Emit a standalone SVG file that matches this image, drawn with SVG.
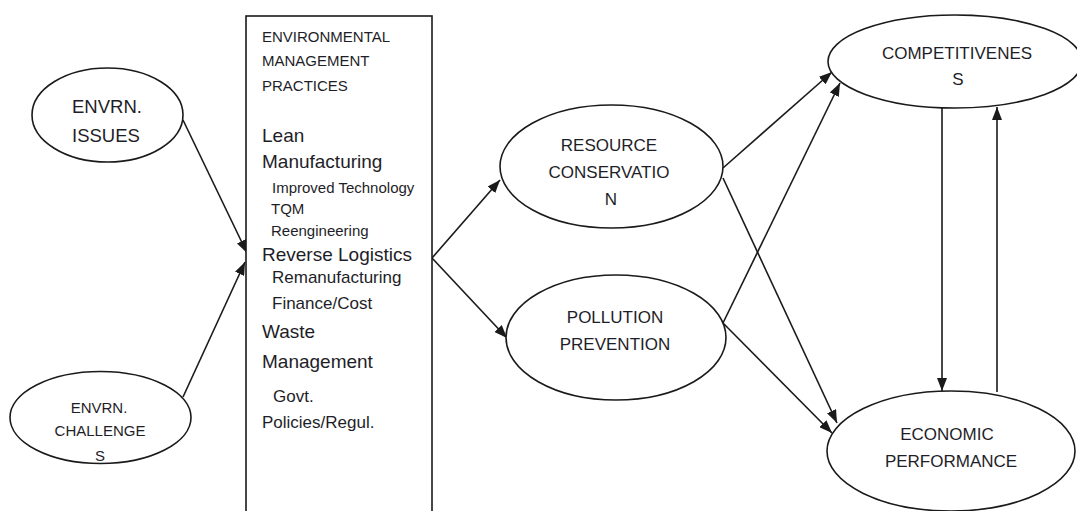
<svg xmlns="http://www.w3.org/2000/svg" width="1077" height="511" viewBox="0 0 1077 511">
<style>
  .shape { fill: #ffffff; stroke: #1a1a1a; stroke-width: 1.6; }
  .edge { fill: none; stroke: #1a1a1a; stroke-width: 1.6; }
  text { font-family: "Liberation Sans", Arial, sans-serif; fill: #1e1e28; }
  .lbl { font-size: 17px; text-anchor: middle; }
  .title { font-size: 15px; }
  .main { font-size: 19px; }
  .sub { font-size: 15px; }
  .sub2 { font-size: 17px; }
</style>
<defs>
  <marker id="arrow" viewBox="0 0 13 10" refX="13" refY="5" markerWidth="13" markerHeight="10" markerUnits="userSpaceOnUse" orient="auto">
    <path d="M0,0 L13,5 L0,10 Z" fill="#1a1a1a"/>
  </marker>
</defs>
<rect width="1077" height="511" fill="#ffffff"/>

<g id="connectors">
  <line class="edge" x1="183" y1="120" x2="247" y2="253" marker-end="url(#arrow)"/>
  <line class="edge" x1="183" y1="397" x2="245" y2="262" marker-end="url(#arrow)"/>
  <line class="edge" x1="432" y1="258" x2="500" y2="180" marker-end="url(#arrow)"/>
  <line class="edge" x1="432" y1="258" x2="507" y2="338" marker-end="url(#arrow)"/>
  <line class="edge" x1="723" y1="168" x2="832" y2="72" marker-end="url(#arrow)"/>
  <line class="edge" x1="723" y1="323" x2="840" y2="83" marker-end="url(#arrow)"/>
  <line class="edge" x1="723" y1="178" x2="837" y2="423" marker-end="url(#arrow)"/>
  <line class="edge" x1="723" y1="323" x2="832" y2="433" marker-end="url(#arrow)"/>
  <line class="edge" x1="942" y1="108" x2="942" y2="391" marker-end="url(#arrow)"/>
  <line class="edge" x1="997" y1="392" x2="997" y2="107" marker-end="url(#arrow)"/>
</g>

<g id="envrn-issues">
  <ellipse class="shape" cx="107.5" cy="115" rx="75.5" ry="47"/>
  <text style="font-size:18.5px" x="72" y="113">ENVRN.</text>
  <text style="font-size:18.5px" x="72" y="142">ISSUES</text>
</g>

<g id="envrn-challenges">
  <ellipse class="shape" cx="100.5" cy="417.5" rx="90.5" ry="46"/>
  <text style="font-size:15px;text-anchor:middle" x="99" y="413">ENVRN.</text>
  <text style="font-size:15px;text-anchor:middle" x="100" y="436">CHALLENGE</text>
  <text style="font-size:15px;text-anchor:middle" x="100" y="461">S</text>
</g>

<g id="emp">
  <rect class="shape" x="246" y="16" width="186" height="510"/>
  <text class="title" x="262" y="42">ENVIRONMENTAL</text>
  <text class="title" x="262" y="66">MANAGEMENT</text>
  <text class="title" x="262" y="91">PRACTICES</text>
  <text class="main" x="262" y="142">Lean</text>
  <text class="main" x="262" y="168">Manufacturing</text>
  <text class="sub" x="272" y="193">Improved Technology</text>
  <text class="sub" x="271" y="214">TQM</text>
  <text class="sub" x="271" y="236">Reengineering</text>
  <text class="main" x="262" y="261">Reverse Logistics</text>
  <text class="sub2" x="272" y="283">Remanufacturing</text>
  <text class="sub2" x="272" y="309">Finance/Cost</text>
  <text class="main" x="262" y="338">Waste</text>
  <text class="main" x="262" y="368">Management</text>
  <text class="sub2" x="273" y="402">Govt.</text>
  <text class="sub2" x="262" y="428">Policies/Regul.</text>
</g>

<g id="resource-conservation">
  <ellipse class="shape" cx="611.5" cy="166.5" rx="111.5" ry="61.5"/>
  <text class="lbl" x="609" y="151">RESOURCE</text>
  <text class="lbl" x="609" y="178">CONSERVATIO</text>
  <text class="lbl" x="611" y="205">N</text>
</g>

<g id="pollution-prevention">
  <ellipse class="shape" cx="616" cy="337.5" rx="110" ry="62.5"/>
  <text class="lbl" x="615" y="323">POLLUTION</text>
  <text class="lbl" x="615" y="350">PREVENTION</text>
</g>

<g id="competitiveness">
  <ellipse class="shape" cx="955" cy="61.5" rx="127" ry="46.5"/>
  <text class="lbl" x="957" y="59">COMPETITIVENES</text>
  <text class="lbl" x="958" y="85">S</text>
</g>

<g id="economic-performance">
  <ellipse class="shape" cx="951" cy="451" rx="124" ry="60"/>
  <text class="lbl" x="947" y="440">ECONOMIC</text>
  <text class="lbl" x="951" y="467">PERFORMANCE</text>
</g>
</svg>
